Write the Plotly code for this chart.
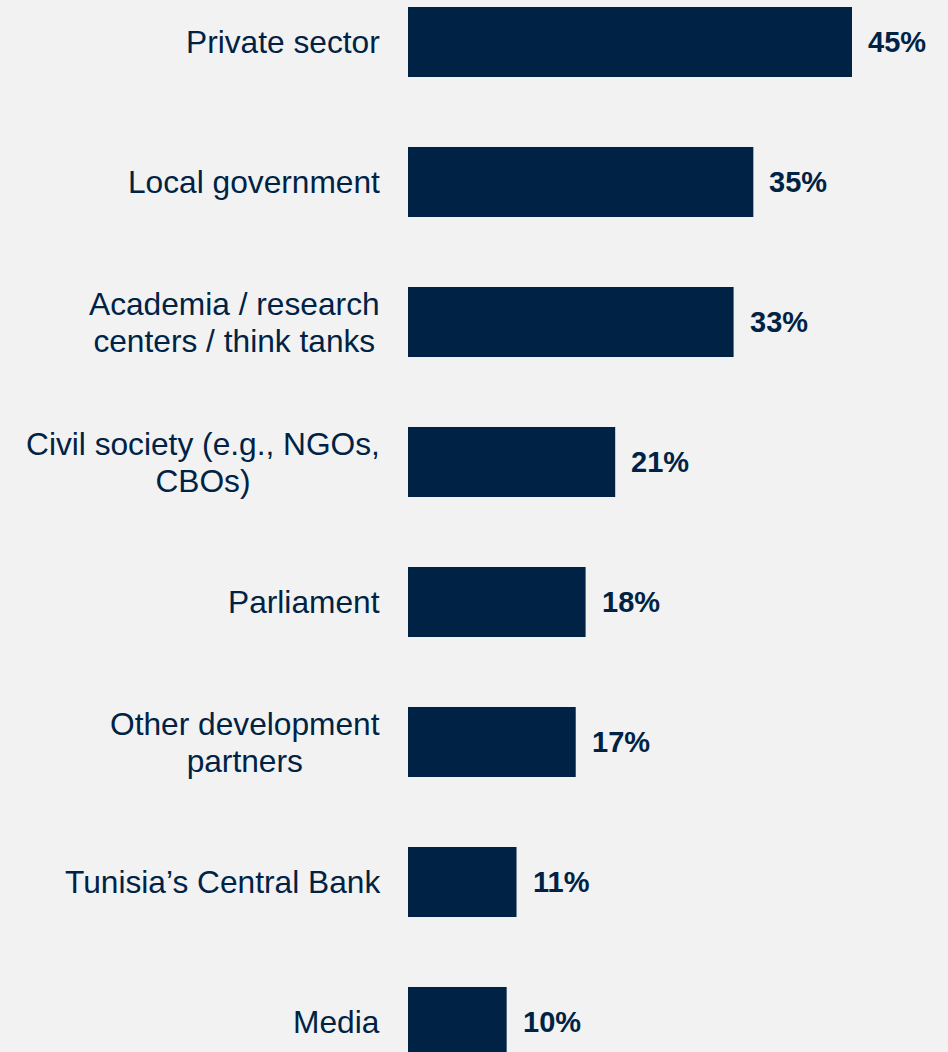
import plotly.graph_objects as go

categories = [
    "Private sector",
    "Local government",
    "Academia / research<br>centers / think tanks",
    "Civil society (e.g., NGOs,<br>CBOs)",
    "Parliament",
    "Other development<br>partners",
    "Tunisia\u2019s Central Bank",
    "Media",
]
values = [45, 35, 33, 21, 18, 17, 11, 10]
value_labels = [f"{v}%" for v in values]

NAVY = "#002345"
BG = "#f2f2f2"
FONT = "Arial, 'Liberation Sans', sans-serif"

idx = list(range(len(categories)))

fig = go.Figure()
fig.add_trace(go.Bar(
    x=values,
    y=idx,
    orientation="h",
    width=0.5,
    marker=dict(color=NAVY, line=dict(width=0)),
    hoverinfo="skip",
))

annotations = []
for i, (cat, v, lab) in enumerate(zip(categories, values, value_labels)):
    styled = "<br>".join(
        f"<span style='font-size:31.7px'>{part}</span>" for part in cat.split("<br>")
    )
    annotations.append(dict(
        xref="paper", yref="y", x=0, y=i,
        text=styled, showarrow=False,
        xanchor="right", yanchor="middle", align="center",
        xshift=-26,
        font=dict(family=FONT, size=28.5, color=NAVY),
    ))
    annotations.append(dict(
        xref="x", yref="y", x=v, y=i,
        text=f"<b>{lab}</b>", showarrow=False,
        xanchor="left", yanchor="middle",
        xshift=14,
        font=dict(family=FONT, size=29, color=NAVY),
    ))

fig.update_layout(
    width=948, height=1052,
    margin=dict(l=408, r=0, t=0, b=0),
    paper_bgcolor=BG, plot_bgcolor=BG,
    showlegend=False,
    xaxis=dict(range=[0, 540 / (444 / 45)], visible=False, showgrid=False, zeroline=False),
    yaxis=dict(range=[7.2143, -0.3], visible=False, showgrid=False, zeroline=False),
    annotations=annotations,
    font=dict(family=FONT, color=NAVY),
)

fig.write_html(
    "out.html",
    config={"displayModeBar": False},
    post_script="document.body.style.margin='0';document.body.style.overflow='hidden';",
)
